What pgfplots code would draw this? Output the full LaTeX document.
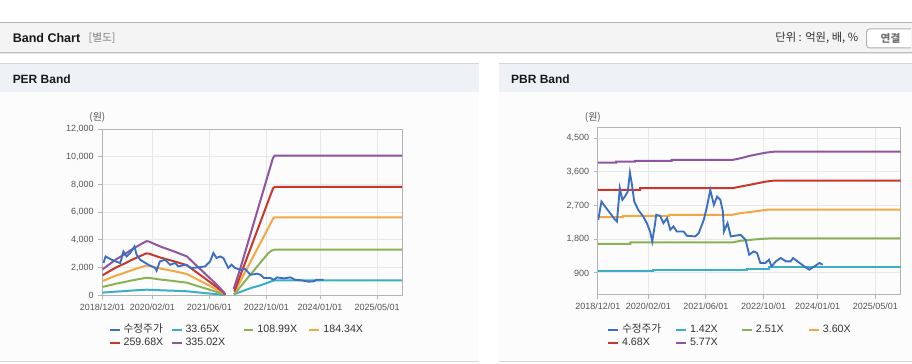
\documentclass[border=0pt]{standalone}
\usepackage{fontspec}
\setmainfont{Liberation Sans}
\newfontfamily\kr{Noto Sans CJK KR}
\usepackage{pgfplots}
\pgfplotsset{compat=1.18}
\definecolor{cBlue}{HTML}{3A6FC4}
\definecolor{cCyan}{HTML}{3BAFC4}
\definecolor{cGreen}{HTML}{8BB157}
\definecolor{cOrange}{HTML}{F2A944}
\definecolor{cRed}{HTML}{C9372C}
\definecolor{cPurple}{HTML}{8E55A0}
\definecolor{gridc}{HTML}{E8E8E8}
\definecolor{framec}{HTML}{B4B4B4}
\definecolor{tickc}{HTML}{555555}
\definecolor{legc}{HTML}{333333}
\definecolor{hdrbg}{HTML}{F4F4F4}
\definecolor{hdrline}{HTML}{B4B4B4}
\definecolor{panelhdr}{HTML}{EEF2F7}
\definecolor{panelbody}{HTML}{FCFCFC}
\definecolor{panelline}{HTML}{D6D6D6}
\pgfplotsset{bandaxis/.style={
  scale only axis, xmin=0, xmax=84,
  xtick={0,14,30,46,61,77},
  xticklabels={2018/12/01,2020/02/01,2021/06/01,2022/10/01,2024/01/01,2025/05/01},
  scaled ticks=false,
  grid=major, grid style={draw=gridc, line width=0.75pt},
  axis line style={draw=framec, line width=0.75pt},
  tick style={draw=framec, line width=0.75pt},
  tick align=outside, major tick length=3pt,
  xtick pos=bottom, ytick pos=left,
  tick label style={font=\fontsize{6.75}{8}\selectfont, text=tickc},
  /pgf/number format/assume math mode=true,
  unbounded coords=jump,
  legend cell align=left,
  legend columns=4,
  legend image code/.code={\draw[#1, line width=1.5pt] (0pt,0pt) -- (7.5pt,0pt);},
  legend style={draw=none, fill=none, inner sep=0pt, anchor=north west,
    font=\fontsize{8}{9}\selectfont, text=legc, row sep=2.25pt,
    nodes={inner xsep=0pt, inner ysep=0pt, text height=6pt, text depth=1.5pt},
    /tikz/every odd column/.append style={column sep=2.25pt}},
  every axis plot/.append style={line width=1.5pt, mark=none},
}}
\begin{document}
\begin{tikzpicture}[x=0.75pt,y=0.75pt]
\fill[white] (0,0) rectangle (912,364);
% top header
\fill[hdrbg] (0,311) rectangle (912,341.5);
\draw[hdrline, line width=0.75pt] (0,341.5) -- (912,341.5);
\draw[black!25, line width=0.75pt] (0,311) -- (912,311);
\draw[black!10, line width=0.75pt] (0,310) -- (912,310);
\node[anchor=west, inner sep=0pt, font=\bfseries\fontsize{9.4}{11}\selectfont, text=black!90] at (12,326) {Band Chart};
\node[anchor=west, inner sep=0pt, font=\kr\fontsize{8}{10}\selectfont, text=black!50] at (88,326) {[별도]};
\node[anchor=east, inner sep=0pt, font=\kr\fontsize{8.5}{10}\selectfont, text=black!80] at (859,326) {단위 : 억원, 배, \%};
\fill[white] (867.5,316.5) rectangle (911.5,334.5);
\draw[black!30, rounded corners=2.25pt, line width=0.75pt] (911.6,316) -- (867,316) -- (867,335) -- (911.6,335);
\node[inner sep=0pt, font=\kr\bfseries\fontsize{8}{10}\selectfont, text=black!55] at (891,325.5) {연결};
% panels
\fill[panelhdr] (0,272) rectangle (479,300);
\fill[panelhdr] (499,272) rectangle (912,300);
\draw[panelline, line width=0.75pt] (0,300) -- (479,300);
\draw[panelline, line width=0.75pt] (499,300) -- (912,300);
\fill[panelbody] (0,2) rectangle (479,272);
\fill[panelbody] (499,2) rectangle (912,272);
\draw[panelline, line width=0.75pt] (0,2) -- (479,2);
\draw[panelline, line width=0.75pt] (499,2) -- (912,2);
\node[anchor=west, inner sep=0pt, font=\bfseries\fontsize{9}{11}\selectfont, text=black!90] at (12,285) {PER Band};
\node[anchor=west, inner sep=0pt, font=\bfseries\fontsize{9}{11}\selectfont, text=black!90] at (511,285) {PBR Band};
\node[inner sep=0pt, font=\kr\fontsize{7.5}{9}\selectfont, text=tickc] at (97,247) {(원)};
\node[inner sep=0pt, font=\kr\fontsize{7.5}{9}\selectfont, text=tickc] at (593,247) {(원)};

% PER Band
\begin{axis}[bandaxis, at={(76.5pt,51.225pt)}, anchor=south west,
  width=225pt, height=124.8pt,
  ymin=0, ymax=12000,
  ytick={0,2000,4000,6000,8000,10000,12000},
  yticklabels={0,{2,000},{4,000},{6,000},{8,000},{10,000},{12,000}},
  legend style={at={(0.02,-0.174)}}]
\addlegendimage{cBlue}
\addlegendentry{\makebox[35.25pt][l]{\kr 수정주가}}
\addplot[cCyan] coordinates {
(0,200) (2,235) (4,275) (6,305) (8,345) (10,375) (12.3,410) (13,405) (16.2,370)
(20,335) (23.7,295) (25.6,245) (28,185) (30,135) (32,85) (34,28) (34.4,6)
(35,nan)
(36.8,80) (38.7,250) (40,380) (42,560) (44,700) (46,880) (47.5,1030) (48.3,1080) (84,1080)};
\addlegendentry{\makebox[42.75pt][l]{33.65X}}
\addplot[cGreen] coordinates {
(0,610) (2,730) (4,855) (6,950) (8,1065) (10,1165) (12.3,1270) (13,1265) (16.2,1145)
(20,1035) (23.7,915) (25.6,760) (28,570) (30,415) (32,255) (34,80) (34.4,20)
(35,nan)
(37,100) (46.5,3050) (47.5,3240) (48.3,3300) (84,3300)};
\addlegendentry{\makebox[38.25pt][l]{108.99X}}
\addplot[cOrange] coordinates {
(0,1030) (2,1240) (4,1445) (6,1610) (8,1800) (10,1970) (12.3,2150) (13,2140) (16.2,1940)
(20,1750) (23.7,1545) (25.6,1285) (28,970) (30,700) (32,430) (34,140) (34.4,35)
(35,nan)
(37,200) (47.9,5560) (48.3,5625) (84,5625)};
\addlegendentry{184.34X}
\addplot[cRed] coordinates {
(0,1450) (2,1745) (4,2040) (6,2270) (8,2535) (10,2775) (12.3,3030) (13,3015) (16.2,2735)
(20,2465) (23.7,2180) (25.6,1815) (28,1365) (30,985) (32,605) (34,195) (34.4,45)
(35,nan)
(37,290) (47.8,7700) (48.3,7840) (84,7840)};
\addlegendentry{259.68X}
\addplot[cPurple] coordinates {
(0,1870) (2,2250) (4,2630) (6,2930) (8,3270) (10,3580) (12.3,3910) (13,3890) (16.2,3530)
(20,3180) (23.7,2810) (25.6,2340) (28,1760) (30,1270) (32,780) (34,250) (34.4,60)
(35,nan)
(36.8,460) (38.7,1975) (47.8,9906) (48.3,10094) (84,10094)};
\addlegendentry{335.02X}
\addplot[cBlue, line width=1.4pt, forget plot] coordinates {
(0.3,2340) (0.9,2810) (2.6,2570) (5,2330) (5.9,3170) (6.8,2810) (7.8,3060) (9,3530)
(9.6,2930) (10.6,2570) (12.9,2210) (14.8,1975) (15.2,1780) (16.1,2450) (17.6,2570)
(19,2210) (20.4,2340) (21.3,2090) (23.2,2210) (25,1975) (26.9,2020) (28.8,2090)
(30.2,2450) (31.1,3060) (32,2700) (33,2810) (33.9,2700) (35.3,1975) (36.2,2210)
(37.2,1975) (38.7,1850) (40,1900) (41.5,1490) (43.3,1565) (44.3,1490) (45.3,1250)
(47.1,1250) (48,1130) (49,1300) (50.8,1225) (52.7,1300) (54,1130) (55.9,1080)
(57.8,990) (59.2,1010) (60.1,1130) (62,1130)};
\end{axis}

% PBR Band
\begin{axis}[bandaxis, at={(448.5pt,51.75pt)}, anchor=south west,
  width=227.25pt, height=125.25pt,
  ymin=320, ymax=4780,
  ytick={900,1800,2700,3600,4500},
  yticklabels={900,{1,800},{2,700},{3,600},{4,500}},
  legend style={at={(0.0297,-0.18)}}]
\addlegendimage{cBlue}
\addlegendentry{\makebox[39.75pt][l]{\kr 수정주가}}
\addplot[cCyan] coordinates {
(0,961) (15.4,961) (15.4,988) (41.5,988) (41.5,1015) (47.5,1015) (47.5,1050) (84,1050)};
\addlegendentry{\makebox[38.25pt][l]{1.42X}}
\addplot[cGreen] coordinates {
(0,1681) (9,1681) (9,1716) (37.3,1716) (39.6,1761) (44.7,1807) (47.5,1823) (84,1823)};
\addlegendentry{\makebox[39pt][l]{2.51X}}
\addplot[cOrange] coordinates {
(0,2393) (7,2393) (7,2428) (19.8,2428) (19.8,2455) (37.3,2455) (39.6,2500) (42,2527)
(44.7,2562) (47.5,2597) (84,2597)};
\addlegendentry{3.60X}
\addplot[cRed] coordinates {
(0,3121) (11.7,3121) (11.7,3167) (37.3,3167) (39.6,3210) (42,3255) (46.6,3343)
(48.9,3370) (84,3370)};
\addlegendentry{4.68X}
\addplot[cPurple] coordinates {
(0,3850) (5.1,3850) (5.1,3877) (10.3,3877) (10.3,3895) (20.5,3895) (20.5,3922)
(37.3,3922) (39.6,3967) (42,4028) (44.7,4082) (46.6,4117) (48.9,4143) (84,4143)};
\addlegendentry{5.77X}
\addplot[cBlue, line width=1.4pt, forget plot] coordinates {
(0.1,2321) (1,2810) (2,2677) (3.4,2500) (4.8,2321) (5.3,2277) (6.1,3167) (6.8,2855)
(7.5,2943) (8.3,3077) (8.9,3583) (9.4,3300) (10.1,2810) (11.2,2588) (12.6,2410)
(13.6,2233) (14.5,2010) (15.1,1743) (15.9,2233) (16.2,2455) (17.3,2428) (18.2,2233)
(19.2,2367) (20.1,2055) (21,2144) (21.9,2010) (23.8,2010) (24.7,1895) (27,1877)
(28,1966) (29.4,2321) (30.3,2677) (31.2,3122) (32.2,2721) (33.1,2943) (34,2855)
(34.7,2543) (35,2010) (36,2233) (36.9,1877) (39.6,1921) (41,1788) (42,1388)
(43.3,1477) (44.2,1433) (45.1,1167) (46.5,1167) (47.5,1255) (48.2,1077) (49.4,1210)
(50.8,1300) (52.2,1210) (53.5,1210) (54.2,1300) (55.4,1210) (57.3,1077) (58.7,988)
(60.1,1077) (61.5,1167) (62.4,1122)};
\end{axis}
\end{tikzpicture}
\end{document}
